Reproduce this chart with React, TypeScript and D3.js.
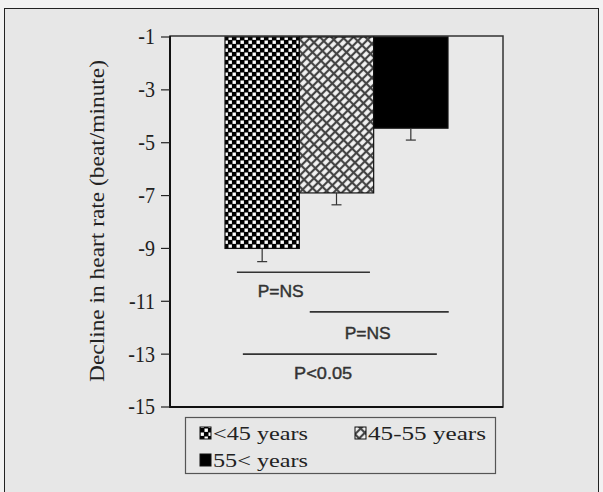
import React from "react";
import * as d3 from "d3";

const categories = ["<45 years", "45-55 years", "55< years"];
const meanDecline = [-9.0, -6.9, -4.45];
const errorBars = [0.5, 0.45, 0.45];
const yTicks = [-1, -3, -5, -7, -9, -11, -13, -15];
const compLabels = ["P=NS", "P=NS", "P<0.05"];
const compLineLevel = [-9.9, -11.4, -13.0];
const compTextLevel = [-10.62, -12.2, -13.72];
const compStart = [-0.34, 0.64, -0.26];
const compEnd = [1.45, 2.51, 2.35];
const compTextPos = [0.25, 1.42, 0.82];
const yLabel = "Decline in heart rate (beat/minute)";
const patternIds = ["pat-check", "pat-hatch", "pat-solid"];

const W = 603;
const H = 492;
const plot = { left: 170, right: 503, top: 37, bottom: 407 };

export default function App() {
  const x = d3
    .scaleBand<string>()
    .domain(categories)
    .range([plot.left, plot.right])
    .paddingInner(0)
    .paddingOuter(0.74);
  const bw = x.bandwidth();
  const x0 = x(categories[0])!;
  const xi = d3
    .scaleLinear()
    .domain([-0.5, categories.length - 0.5])
    .range([x0, x0 + bw * categories.length]);
  const y = d3.scaleLinear().domain([-1, -15]).range([plot.top, plot.bottom]);

  const fill = (i: number) => (i === 2 ? "#000" : `url(#${patternIds[i]})`);

  return (
    <svg
      width={W}
      height={H}
      style={{ position: "absolute", left: 0, top: 0, background: "#f2f2f2" }}
    >
      <defs>
        <pattern id="pat-check" width={8} height={8} patternUnits="userSpaceOnUse">
          <rect width={8} height={8} fill="#000" />
          <rect x={0.5} y={0.5} width={3.4} height={3.4} fill="#fff" />
          <rect x={4.5} y={4.5} width={3.4} height={3.4} fill="#fff" />
        </pattern>
        <pattern
          id="pat-hatch"
          width={8}
          height={6}
          patternUnits="userSpaceOnUse"
          patternTransform="rotate(-45)"
        >
          <rect width={8} height={6} fill="#444" />
          <rect x={1.1} y={1.1} width={5.8} height={3.8} fill="#f4f4f4" />
        </pattern>
      </defs>
      {/* outer frame */}
      <rect x={4.5} y={8.5} width={594} height={490} fill="#e7e7e7" stroke="#222" strokeWidth={1} />

      {/* plot frame */}
      <rect
        x={plot.left}
        y={plot.top - 1}
        width={plot.right - plot.left}
        height={plot.bottom - plot.top + 1}
        fill="#e9e9e9"
        stroke="#333"
        strokeWidth={1.5}
      />
      <line x1={plot.left} x2={plot.left} y1={plot.top - 1} y2={plot.bottom + 1} stroke="#111" strokeWidth={2} />
      <line x1={plot.left} x2={plot.right} y1={plot.bottom} y2={plot.bottom} stroke="#111" strokeWidth={2} />

      {/* y ticks */}
      {yTicks.map((t) => (
        <g key={t}>
          <line x1={plot.left - 9} x2={plot.left} y1={y(t)} y2={y(t)} stroke="#222" strokeWidth={1.2} />
          <text
            transform={`translate(${plot.left - 15},${y(t)}) scale(1,1.15)`}
            textAnchor="end"
            dominantBaseline="central"
            fontFamily="'Liberation Serif', 'Times New Roman', serif"
            fontSize={20}
            fill="#222"
          >
            {String(t)}
          </text>
        </g>
      ))}

      {/* y label */}
      <text
        transform={`translate(104,221) rotate(-90) scale(1.17,1)`}
        textAnchor="middle"
        fontFamily="'Liberation Serif', 'Times New Roman', serif"
        fontSize={20}
        fill="#222"
      >
        {yLabel}
      </text>

      {/* bars */}
      {categories.map((c, i) => (
        <g key={c}>
          <rect
            x={x(c)!}
            y={y(-1)}
            width={bw}
            height={y(meanDecline[i]) - y(-1)}
            fill={fill(i)}
            stroke="#111"
            strokeWidth={1.2}
          />
          <line
            x1={x(c)! + bw / 2}
            x2={x(c)! + bw / 2}
            y1={y(meanDecline[i])}
            y2={y(meanDecline[i] - errorBars[i])}
            stroke="#333"
            strokeWidth={1.2}
          />
          <line
            x1={x(c)! + bw / 2 - 5}
            x2={x(c)! + bw / 2 + 5}
            y1={y(meanDecline[i] - errorBars[i])}
            y2={y(meanDecline[i] - errorBars[i])}
            stroke="#333"
            strokeWidth={1.2}
          />
        </g>
      ))}

      {/* comparisons */}
      {compLabels.map((lab, i) => (
        <g key={i}>
          <line
            x1={xi(compStart[i])}
            x2={xi(compEnd[i])}
            y1={y(compLineLevel[i])}
            y2={y(compLineLevel[i])}
            stroke="#333"
            strokeWidth={1.6}
          />
          <text
            x={xi(compTextPos[i])}
            y={y(compTextLevel[i])}
            textAnchor="middle"
            dominantBaseline="central"
            fontFamily="'Liberation Sans', Arial, sans-serif"
            fontSize={16}
            textLength={lab.length === 4 ? 46 : 58}
            lengthAdjust="spacingAndGlyphs"
            fill="#333"
            stroke="#333"
            strokeWidth={0.4}
          >
            {lab}
          </text>
        </g>
      ))}

      {/* legend */}
      <rect x={185.5} y={417.5} width={310} height={56} fill="#e7e7e7" stroke="#555" strokeWidth={1.2} />
      {categories.map((c, i) => {
        const col = i === 1 ? 1 : 0;
        const row = i === 2 ? 1 : 0;
        const sx = col === 0 ? 200 : 355;
        const cy = row === 0 ? 433 : 460;
        const tl = [95, 118, 95][i];
        return (
          <g key={c}>
            <rect x={sx} y={cy - 6} width={11} height={12} fill={fill(i)} stroke="#111" strokeWidth={1} />
            <text
              x={sx + 13}
              y={cy}
              dominantBaseline="central"
              fontFamily="'Liberation Serif', 'Times New Roman', serif"
              fontSize={19}
              textLength={tl}
              lengthAdjust="spacingAndGlyphs"
              fill="#222"
            >
              {c}
            </text>
          </g>
        );
      })}
    </svg>
  );
}
